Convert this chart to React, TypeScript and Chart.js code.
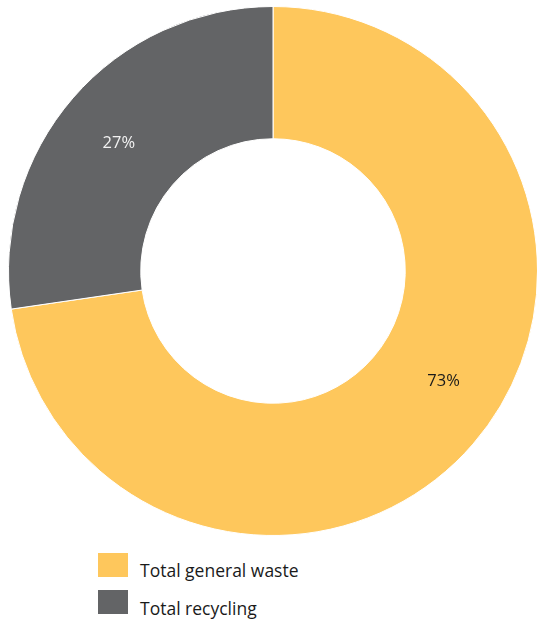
import React, { useEffect, useRef } from "react";
import { Chart, registerables } from "chart.js";

Chart.register(...registerables);

const categories = ["Total general waste", "Total recycling"];
const values = [72.7, 27.3];
const valueLabels = ["73%", "27%"];
const colors = ["#FEC75C", "#636466"];
const labelColors = ["#1a1a1a", "#f2f2f2"];

const FONT = "'Open Sans', Lato, sans-serif";

const labelPlugin = {
  id: "arcLabels",
  afterDatasetsDraw(chart: any) {
    const meta = chart.getDatasetMeta(0);
    const ctx = chart.ctx;
    ctx.save();
    ctx.font = `16.5px ${FONT}`;
    ctx.textAlign = "center";
    ctx.textBaseline = "middle";
    const fracs = [0.47, 0.488];
    const offs = [5, 2];
    meta.data.forEach((arc: any, i: number) => {
      const { x, y, startAngle, endAngle, innerRadius, outerRadius } = arc.getProps(
        ["x", "y", "startAngle", "endAngle", "innerRadius", "outerRadius"],
        true
      );
      const a = startAngle + (endAngle - startAngle) * fracs[i];
      const r = (innerRadius + outerRadius) / 2 + offs[i];
      ctx.fillStyle = labelColors[i];
      ctx.fillText(valueLabels[i], x + Math.cos(a) * r, y + Math.sin(a) * r);
    });
    ctx.restore();
  },
};

export default function App() {
  const ref = useRef<HTMLCanvasElement | null>(null);
  useEffect(() => {
    if (!ref.current) return;
    const chart = new Chart(ref.current, {
      type: "doughnut",
      data: {
        labels: categories,
        datasets: [
          {
            data: values,
            backgroundColor: colors,
            borderColor: "#ffffff",
            borderWidth: 1,
          },
        ],
      },
      options: {
        animation: false,
        responsive: true,
        maintainAspectRatio: false,
        cutout: "50%",
        layout: { padding: 0 },
        plugins: {
          legend: { display: false },
          tooltip: { enabled: false },
        },
      },
      plugins: [labelPlugin],
    });
    return () => chart.destroy();
  }, []);

  return (
    <div style={{ position: "absolute", left: 0, top: 0, width: 537, height: 621, background: "#fff" }}>
      <div style={{ position: "absolute", left: 8, top: 6, width: 530, height: 530 }}>
        <canvas ref={ref} />
      </div>
      {categories.map((c, i) => (
        <div key={c}>
          <span
            style={{
              position: "absolute",
              left: 98,
              top: 553 + i * 37,
              width: 30,
              height: 24,
              background: colors[i],
            }}
          />
          <span
            style={{
              position: "absolute",
              left: 140,
              top: 575 + i * 38,
              lineHeight: "0px",
              fontFamily: FONT,
              fontSize: 17.5,
              color: "#1a1a1a",
              whiteSpace: "nowrap",
            }}
          >
            <span style={{ display: "inline-block", transform: "translateY(-5px)" }}>{c}</span>
          </span>
        </div>
      ))}
    </div>
  );
}
